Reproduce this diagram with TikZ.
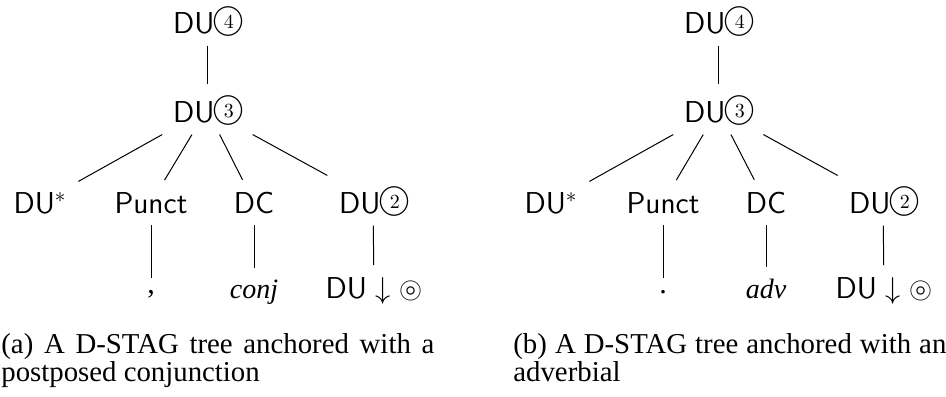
\RequirePackage{fix-cm}
\documentclass[tikz,border=0pt]{standalone}
\usepackage{amssymb}
\usepackage{fontspec}
\newfontfamily\serfont{Liberation Serif}
\newcommand\cnum[1]{{\kern1.2pt\ooalign{\makebox[12pt]{\raisebox{1.7pt}{\fontsize{16}{16}\selectfont$\bigcirc$}}\cr\hfil\raisebox{2.3pt}{\fontsize{10}{10}\selectfont\rmfamily #1}\hfil}}}
\tikzset{
  tn/.style={font=\fontsize{15.1}{18}\selectfont\sffamily, inner sep=5.75pt, anchor=base},
  itn/.style={font=\fontsize{14}{17}\selectfont\serfont\itshape, inner sep=5.75pt, anchor=base},
  pn/.style={font=\fontsize{15}{18}\selectfont\serfont, inner sep=5.75pt, anchor=base},
  capn/.style={font=\fontsize{14.4}{14.4}\selectfont\serfont, inner sep=0pt, anchor=base west},
  edge/.style={line width=0.5pt}
}
\begin{document}
\begin{tikzpicture}[x=0.5pt,y=-0.5pt]
\useasboundingbox (0,0) rectangle (946,396);
% left tree
\node[tn] (a4) at (207,33) {DU\cnum{4}};
\node[tn] (a3) at (207,122) {DU\cnum{3}};
\node[tn] (as) at (40,213) {DU$^*$};
\node[tn] (ap) at (151,213) {Punct};
\node[tn] (ad) at (254,213) {DC};
\node[tn] (a2) at (373,213) {DU\cnum{2}};
\node[pn] (al1) at (151,293) {,};
\node[itn] (al2) at (254,298) {conj};
\node[tn] (al3) at (374,298) {DU$\;\downarrow\circledcirc$};
\draw[edge] (a4) -- (a3);
\draw[edge] (a3) -- (as);
\draw[edge] (a3) -- (ap);
\draw[edge] (a3) -- (ad);
\draw[edge] (a3) -- (a2);
\draw[edge] (ap) -- (al1);
\draw[edge] (ad) -- (al2);
\draw[edge] (a2) -- (al3);
% right tree
\node[tn] (b4) at (718,33) {DU\cnum{4}};
\node[tn] (b3) at (718,122) {DU\cnum{3}};
\node[tn] (bs) at (551,213) {DU$^*$};
\node[tn] (bp) at (663,213) {Punct};
\node[tn] (bd) at (766,213) {DC};
\node[tn] (b2) at (883,213) {DU\cnum{2}};
\node[pn] (bl1) at (663,293) {.};
\node[itn] (bl2) at (766,298) {adv};
\node[tn] (bl3) at (884,298) {DU$\;\downarrow\circledcirc$};
\draw[edge] (b4) -- (b3);
\draw[edge] (b3) -- (bs);
\draw[edge] (b3) -- (bp);
\draw[edge] (b3) -- (bd);
\draw[edge] (b3) -- (b2);
\draw[edge] (bp) -- (bl1);
\draw[edge] (bd) -- (bl2);
\draw[edge] (b2) -- (bl3);
% captions
\node[capn] (ca1) at (1,353) {\makebox[216.5pt][s]{(a) A D-STAG tree anchored with a}};
\node[capn] (ca2) at (1,381) {postposed conjunction};
\node[capn] (cb1) at (513,353) {\makebox[216.5pt][s]{(b) A D-STAG tree anchored with an}};
\node[capn] (cb2) at (513,381) {adverbial};
\end{tikzpicture}
\end{document}
